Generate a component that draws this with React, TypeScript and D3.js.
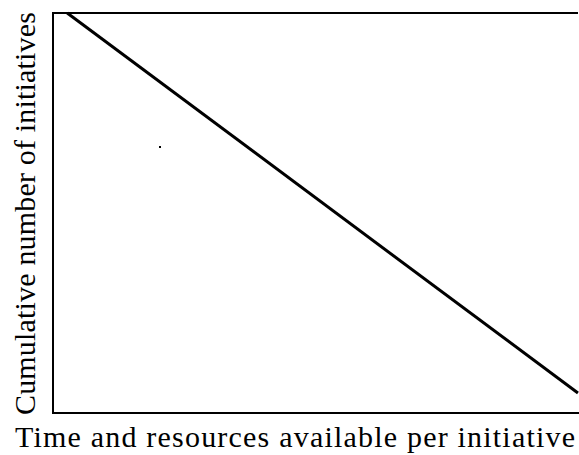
import * as d3 from "d3"

const lineX = [0.027, 0.998]
const lineY = [1, 0.05]
const xLabel = "Time and resources available per initiative"
const yLabel = "Cumulative number of initiatives"

const font = "'Liberation Serif', 'Times New Roman', Times, serif"

export default function App() {
  const w = 579
  const h = 455
  const m = { l: 53, r: 0, t: 13, b: 42 }

  const x = d3.scaleLinear().domain([0, 1]).range([m.l, w - m.r])
  const y = d3.scaleLinear().domain([0, 1]).range([h - m.b, m.t])

  const pts: [number, number][] = lineX.map((v, i) => [v, lineY[i]])
  const line = d3
    .line<[number, number]>()
    .x((d) => x(d[0]))
    .y((d) => y(d[1]))

  return (
    <svg
      width={w}
      height={h}
      style={{ position: "absolute", left: 0, top: 0, background: "#fff" }}
    >
      <path
        d={`M${x(1) - 1},${y(1)} H${x(0)} V${y(0)} H${x(1)}`}
        fill="none"
        stroke="#000"
        strokeWidth={2}
      />
      <path d={line(pts) ?? ""} fill="none" stroke="#000" strokeWidth={3} />
      <rect x={159} y={146} width={2} height={2} fill="#000" />

      <text
        x={15}
        y={447}
        style={{ fontFamily: font }}
        fontSize={30}
        textLength={560}
        lengthAdjust="spacing"
      >
        {xLabel}
      </text>
      <text
        transform="translate(35,415) rotate(-90)"
        style={{ fontFamily: font }}
        fontSize={30}
        textLength={403}
        lengthAdjust="spacing"
      >
        {yLabel}
      </text>
    </svg>
  )
}
